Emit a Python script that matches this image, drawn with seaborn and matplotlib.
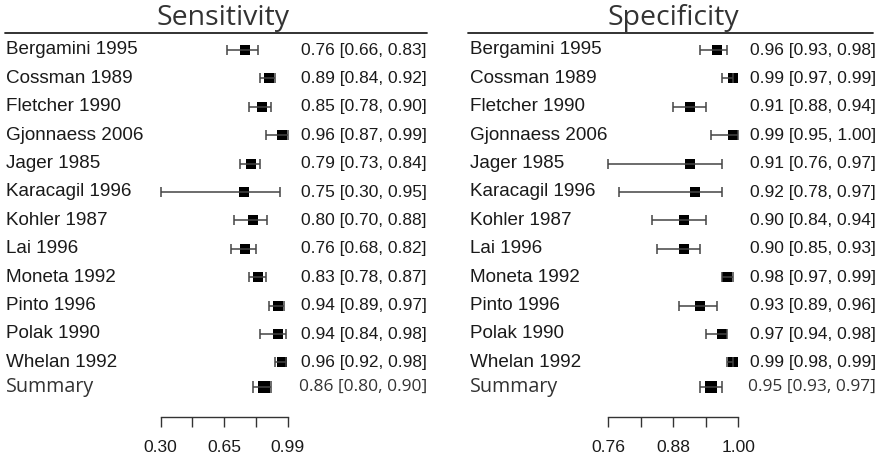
import numpy as np
import pandas as pd
import matplotlib
matplotlib.use("Agg")
import matplotlib.pyplot as plt
from matplotlib.transforms import blended_transform_factory
from matplotlib.lines import Line2D
import seaborn as sns

studies = ["Bergamini 1995", "Cossman 1989", "Fletcher 1990", "Gjonnaess 2006",
           "Jager 1985", "Karacagil 1996", "Kohler 1987", "Lai 1996",
           "Moneta 1992", "Pinto 1996", "Polak 1990", "Whelan 1992"]

sens_est = [0.76, 0.89, 0.85, 0.96, 0.79, 0.75, 0.80, 0.76, 0.83, 0.94, 0.94, 0.96]
sens_lo = [0.66, 0.84, 0.78, 0.87, 0.73, 0.30, 0.70, 0.68, 0.78, 0.89, 0.84, 0.92]
sens_hi = [0.83, 0.92, 0.90, 0.99, 0.84, 0.95, 0.88, 0.82, 0.87, 0.97, 0.98, 0.98]
sens_summary = [0.86, 0.80, 0.90]

spec_est = [0.96, 0.99, 0.91, 0.99, 0.91, 0.92, 0.90, 0.90, 0.98, 0.93, 0.97, 0.99]
spec_lo = [0.93, 0.97, 0.88, 0.95, 0.76, 0.78, 0.84, 0.85, 0.97, 0.89, 0.94, 0.98]
spec_hi = [0.98, 0.99, 0.94, 1.00, 0.97, 0.97, 0.94, 0.93, 0.99, 0.96, 0.98, 0.99]
spec_summary = [0.95, 0.93, 0.97]

sens_ticklabels = ["0.30", "0.65", "0.99"]
spec_ticklabels = ["0.76", "0.88", "1.00"]

sns.set_theme(style="white")
plt.rcParams["font.family"] = ["Liberation Sans", "DejaVu Sans"]

W, H = 879, 459
fig = plt.figure(figsize=(W / 100, H / 100), dpi=100)

TXT = "#1a1a1a"
ROW = 1.0
SUM_Y = 11.85


def fx(px):
    return px / W


def fy(py):
    return (H - py) / H


def panel(ax_left_px, ax_right_px, est, lo, hi, summ, ticklabels, name_x, val_x,
          title, title_x, line_x0, line_x1):
    ax = fig.add_axes([fx(ax_left_px), fy(417), fx(ax_right_px - ax_left_px), (417 - 36) / H])
    xmin, xmax = float(ticklabels[0]), float(ticklabels[-1])
    ax.set_xlim(xmin, xmax)
    ax.set_ylim((417 - 50) / 28.4, (36 - 50) / 28.4)
    ypos = np.arange(len(studies)) * ROW
    df = pd.DataFrame({"study": studies, "est": est, "lo": lo, "hi": hi, "y": ypos})
    err = np.array([df["est"] - df["lo"], df["hi"] - df["est"]])
    ax.errorbar(df["est"], df["y"], xerr=err, fmt="none", ecolor="#444444",
                elinewidth=1.1, capsize=3.5, capthick=1.1, clip_on=False)
    sns.scatterplot(data=df, x="est", y="y", marker="s", s=42, color="black",
                    edgecolor="black", linewidth=0, ax=ax, clip_on=False, legend=False)
    serr = np.array([[summ[0] - summ[1]], [summ[2] - summ[0]]])
    ax.errorbar([summ[0]], [SUM_Y], xerr=serr, fmt="none", ecolor="#444444",
                elinewidth=1.1, capsize=4, capthick=1.1, clip_on=False)
    sdf = pd.DataFrame({"est": [summ[0]], "y": [SUM_Y]})
    sns.scatterplot(data=sdf, x="est", y="y", marker="s", s=75, color="black",
                    linewidth=0, ax=ax, clip_on=False, legend=False)

    ticks = np.linspace(xmin, xmax, 5)
    ax.set_xticks(ticks)
    ax.set_xticklabels([ticklabels[0], "", ticklabels[1], "", ticklabels[2]])
    ax.tick_params(axis="x", direction="out", length=7.2, width=1.0, color="#333333",
                   pad=9.5, labelsize=12.6, labelcolor=TXT, bottom=True)
    ax.set_yticks([])
    ax.set_xlabel("")
    ax.set_ylabel("")
    for s in ["left", "right", "top"]:
        ax.spines[s].set_visible(False)
    ax.spines["bottom"].set_color("#333333")
    ax.spines["bottom"].set_linewidth(1.0)
    ax.patch.set_alpha(0)

    tr = blended_transform_factory(fig.transFigure, ax.transData)
    for i, row in df.iterrows():
        ax.text(fx(name_x), row["y"], row["study"], transform=tr, ha="left", va="center",
                fontsize=13.6, color=TXT)
        ax.text(fx(val_x), row["y"], f"{row['est']:.2f} [{row['lo']:.2f}, {row['hi']:.2f}]",
                transform=tr, ha="right", va="center", fontsize=12.5, color=TXT)
    ax.text(fx(name_x), SUM_Y, "Summary", transform=tr, ha="left", va="center",
            fontsize=14.2, color="#333333", family=["Open Sans", "DejaVu Sans"])
    ax.text(fx(val_x), SUM_Y, f"{summ[0]:.2f} [{summ[1]:.2f}, {summ[2]:.2f}]",
            transform=tr, ha="right", va="center", fontsize=12.5, color="#333333",
            family=["Open Sans", "DejaVu Sans"])

    fig.text(fx(title_x), fy(25.5), title, ha="center", va="baseline", fontsize=20.5,
             color="#333333", family=["Open Sans", "DejaVu Sans"])
    fig.add_artist(Line2D([fx(line_x0), fx(line_x1)], [fy(33), fy(33)],
                          transform=fig.transFigure, color="#222222", lw=1.3))
    return ax


panel(160.7, 287.7, sens_est, sens_lo, sens_hi, sens_summary, sens_ticklabels,
      6, 427, "Sensitivity", 223, 5, 427)
panel(608.3, 738.3, spec_est, spec_lo, spec_hi, spec_summary, spec_ticklabels,
      470, 876, "Specificity", 673, 468, 873)

fig.savefig("out.png", dpi=100)
